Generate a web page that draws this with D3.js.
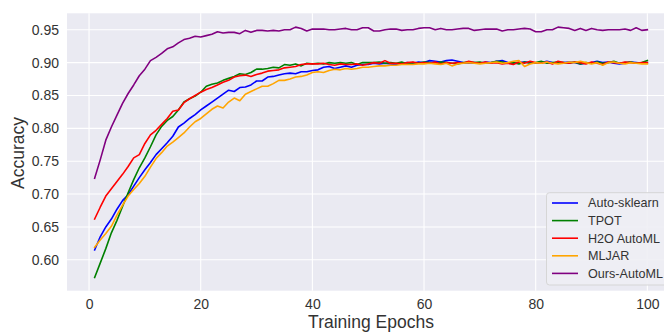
<!DOCTYPE html>
<html>
<head>
<meta charset="utf-8">
<script src="https://cdn.jsdelivr.net/npm/d3@7"></script>
<style>
  html, body { margin: 0; padding: 0; background: #fff; overflow: hidden; }
  svg { display: block; }
  text { font-family: "Liberation Sans", Arial, sans-serif; }
</style>
</head>
<body>
<svg id="chart" width="664" height="332"></svg>
<script>
const epochs = d3.range(1, 101);
const seriesNames = ["Auto-sklearn", "TPOT", "H2O AutoML", "MLJAR", "Ours-AutoML"];
const seriesColors = ["blue", "green", "red", "orange", "purple"];
const xTicks = [0, 20, 40, 60, 80, 100];
const yTicks = [0.60, 0.65, 0.70, 0.75, 0.80, 0.85, 0.90, 0.95];
const xLabel = "Training Epochs";
const yLabel = "Accuracy";

const autoSklearn = [
  0.615,0.635,0.650,0.662,0.677,0.690,0.699,0.712,0.725,0.737,
  0.748,0.760,0.769,0.778,0.788,0.802,0.808,0.815,0.821,0.828,
  0.834,0.840,0.846,0.852,0.858,0.856,0.862,0.863,0.866,0.872,
  0.872,0.878,0.879,0.881,0.883,0.884,0.883,0.886,0.886,0.888,
  0.889,0.893,0.894,0.891,0.893,0.895,0.893,0.896,0.897,0.897,
  0.899,0.898,0.899,0.898,0.897,0.899,0.900,0.899,0.901,0.900,
  0.903,0.902,0.901,0.903,0.904,0.902,0.900,0.899,0.900,0.899,
  0.901,0.900,0.902,0.903,0.900,0.899,0.900,0.901,0.900,0.899,
  0.900,0.902,0.900,0.899,0.900,0.901,0.900,0.898,0.899,0.900,
  0.902,0.900,0.901,0.899,0.898,0.899,0.901,0.900,0.899,0.900
];
const tpot = [
  0.573,0.595,0.617,0.641,0.660,0.681,0.702,0.722,0.740,0.755,
  0.772,0.790,0.803,0.812,0.818,0.828,0.840,0.845,0.849,0.855,
  0.864,0.867,0.869,0.873,0.876,0.879,0.883,0.882,0.885,0.890,
  0.890,0.891,0.893,0.892,0.897,0.896,0.898,0.895,0.899,0.898,
  0.899,0.898,0.900,0.899,0.900,0.899,0.900,0.897,0.900,0.900,
  0.900,0.901,0.899,0.900,0.899,0.901,0.898,0.900,0.899,0.901,
  0.900,0.899,0.901,0.900,0.899,0.898,0.900,0.901,0.900,0.901,
  0.899,0.900,0.902,0.901,0.899,0.900,0.898,0.901,0.899,0.900,
  0.902,0.899,0.900,0.901,0.900,0.899,0.901,0.898,0.900,0.899,
  0.901,0.899,0.900,0.902,0.899,0.900,0.901,0.899,0.900,0.903
];
const h2o = [
  0.662,0.680,0.697,0.708,0.719,0.730,0.742,0.755,0.760,0.777,
  0.790,0.797,0.806,0.815,0.826,0.828,0.839,0.845,0.850,0.855,
  0.859,0.862,0.866,0.870,0.873,0.878,0.880,0.881,0.879,0.882,
  0.884,0.887,0.888,0.889,0.892,0.893,0.894,0.897,0.898,0.898,
  0.898,0.899,0.897,0.896,0.898,0.897,0.897,0.898,0.896,0.898,
  0.900,0.899,0.903,0.899,0.899,0.898,0.900,0.901,0.899,0.900,
  0.899,0.901,0.898,0.900,0.899,0.900,0.899,0.902,0.900,0.899,
  0.901,0.899,0.900,0.898,0.899,0.897,0.901,0.899,0.902,0.900,
  0.899,0.901,0.898,0.902,0.900,0.899,0.901,0.900,0.898,0.901,
  0.899,0.897,0.901,0.900,0.899,0.901,0.900,0.899,0.900,0.900
];
const mljar = [
  0.619,0.630,0.640,0.651,0.668,0.683,0.697,0.707,0.716,0.727,
  0.741,0.754,0.763,0.773,0.779,0.786,0.793,0.802,0.810,0.815,
  0.822,0.829,0.834,0.831,0.840,0.846,0.842,0.852,0.856,0.860,
  0.864,0.864,0.868,0.873,0.873,0.875,0.878,0.879,0.881,0.885,
  0.886,0.885,0.888,0.890,0.889,0.891,0.890,0.891,0.893,0.893,
  0.894,0.895,0.895,0.896,0.896,0.897,0.897,0.897,0.898,0.898,
  0.899,0.898,0.897,0.899,0.895,0.898,0.899,0.900,0.899,0.898,
  0.899,0.900,0.901,0.899,0.900,0.902,0.903,0.894,0.898,0.900,
  0.899,0.901,0.899,0.898,0.899,0.901,0.900,0.902,0.900,0.898,
  0.900,0.896,0.900,0.901,0.899,0.898,0.900,0.899,0.898,0.898
];
const ours = [
  0.724,0.752,0.782,0.802,0.820,0.838,0.853,0.866,0.880,0.890,
  0.903,0.908,0.914,0.921,0.924,0.930,0.935,0.937,0.940,0.939,
  0.941,0.943,0.947,0.945,0.946,0.946,0.944,0.949,0.946,0.949,
  0.949,0.948,0.949,0.948,0.950,0.950,0.954,0.952,0.948,0.951,
  0.951,0.951,0.950,0.950,0.951,0.952,0.950,0.950,0.953,0.953,
  0.948,0.948,0.950,0.951,0.951,0.949,0.950,0.950,0.952,0.953,
  0.953,0.950,0.952,0.950,0.950,0.951,0.952,0.952,0.949,0.950,
  0.951,0.951,0.951,0.948,0.950,0.950,0.951,0.952,0.951,0.947,
  0.947,0.950,0.950,0.954,0.953,0.952,0.949,0.952,0.949,0.952,
  0.950,0.949,0.950,0.950,0.950,0.951,0.949,0.953,0.949,0.950
];
const seriesValues = [autoSklearn, tpot, h2o, mljar, ours];

const svg = d3.select("#chart");
const W = 664, H = 332;
const plot = { left: 67, right: 675, top: 13.3, bottom: 290.7 };

const x = d3.scaleLinear().domain([-3.95, 104.95]).range([plot.left, plot.right]);
const y = d3.scaleLinear().domain([0.553, 0.975]).range([plot.bottom, plot.top]);

svg.append("rect").attr("x", 0).attr("y", 0).attr("width", W).attr("height", H).attr("fill", "#fff");
svg.append("rect")
  .attr("x", plot.left).attr("y", plot.top)
  .attr("width", plot.right - plot.left).attr("height", plot.bottom - plot.top)
  .attr("fill", "#EAEAF2");

// grid
svg.append("g").selectAll("line").data(xTicks).join("line")
  .attr("x1", d => x(d)).attr("x2", d => x(d))
  .attr("y1", plot.top).attr("y2", plot.bottom)
  .attr("stroke", "#fff").attr("stroke-width", 1.1);
svg.append("g").selectAll("line").data(yTicks).join("line")
  .attr("x1", plot.left).attr("x2", plot.right)
  .attr("y1", d => y(d)).attr("y2", d => y(d))
  .attr("stroke", "#fff").attr("stroke-width", 1.1);

// axes
const xAxis = d3.axisBottom(x).tickValues(xTicks).tickSize(0).tickPadding(8).tickFormat(d3.format("d"));
const gx = svg.append("g").attr("transform", `translate(0,${plot.bottom})`).call(xAxis);
gx.select(".domain").remove();
gx.selectAll("text").attr("font-size", 14).attr("fill", "#333")
  .attr("font-family", "Liberation Sans, Arial, sans-serif").attr("dy", "0.75em");

const yAxis = d3.axisLeft(y).tickValues(yTicks).tickSize(0).tickPadding(8).tickFormat(d3.format(".2f"));
const gy = svg.append("g").attr("transform", `translate(${plot.left},0)`).call(yAxis);
gy.select(".domain").remove();
gy.selectAll("text").attr("font-size", 14).attr("fill", "#333")
  .attr("font-family", "Liberation Sans, Arial, sans-serif");

svg.append("text").attr("x", (plot.left + plot.right) / 2).attr("y", 328)
  .attr("text-anchor", "middle").attr("font-size", 17.5).attr("fill", "#333").text(xLabel);
svg.append("text").attr("transform", "translate(24,153) rotate(-90)")
  .attr("text-anchor", "middle").attr("font-size", 17.5).attr("fill", "#333").text(yLabel);

// lines
const clip = svg.append("clipPath").attr("id", "plotclip").append("rect")
  .attr("x", plot.left).attr("y", plot.top)
  .attr("width", plot.right - plot.left).attr("height", plot.bottom - plot.top);
const line = d3.line().x((d, i) => x(epochs[i])).y(d => y(d));
svg.append("g").attr("clip-path", "url(#plotclip)").selectAll("path").data(seriesValues).join("path")
  .attr("d", d => line(d))
  .attr("fill", "none")
  .attr("stroke", (d, i) => seriesColors[i])
  .attr("stroke-width", 1.6)
  .attr("stroke-linejoin", "round")
  .attr("stroke-linecap", "square");

// legend
const lg = svg.append("g");
lg.append("rect").attr("x", 546.5).attr("y", 192.7).attr("width", 130).attr("height", 92.3)
  .attr("rx", 3).attr("fill", "#EEEEF4").attr("fill-opacity", 0.9)
  .attr("stroke", "#d6d6d6").attr("stroke-width", 1);
const items = lg.selectAll("g.item").data(seriesNames).join("g").attr("class", "item")
  .attr("transform", (d, i) => `translate(0,${203 + i * 17.6})`);
items.append("line").attr("x1", 552).attr("x2", 578).attr("y1", 0).attr("y2", 0)
  .attr("stroke", (d, i) => seriesColors[i]).attr("stroke-width", 1.6);
items.append("text").attr("x", 588).attr("y", 0).attr("dy", "0.35em")
  .attr("font-size", 12.6).attr("fill", "#333").text(d => d);
</script>
</body>
</html>
